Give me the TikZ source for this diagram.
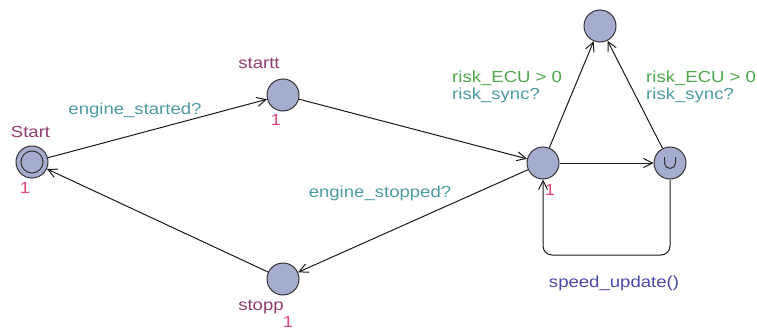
\documentclass[tikz,border=0pt]{standalone}
\usepackage{fontspec}
\setmainfont{Liberation Sans}[FakeStretch=1.16]
\usetikzlibrary{arrows.meta,calc}
\definecolor{locfill}{HTML}{A5ACD0}
\definecolor{namecol}{HTML}{8E3E6E}
\definecolor{onecol}{HTML}{E0457B}
\definecolor{synccol}{HTML}{4C9CA0}
\definecolor{guardcol}{HTML}{4CA84C}
\definecolor{updcol}{HTML}{4A4AA8}
\begin{document}
\begin{tikzpicture}[x=1pt,y=-1pt,
  loc/.style={circle,draw=black!80,fill=locfill,line width=1pt,minimum size=32pt,inner sep=0pt},
  edge/.style={draw=black!90,line width=1pt,-{Straight Barb[length=9pt,width=9pt,line width=1pt]}},
  txt/.style={font=\fontsize{16}{18}\selectfont,inner sep=0pt,anchor=base},
  nm/.style={txt,text=namecol},
  one/.style={txt,text=onecol},
  sy/.style={txt,text=synccol},
  gd/.style={txt,text=guardcol},
  up/.style={txt,text=updcol}]
\useasboundingbox (0,0) rectangle (757,329);
% locations
\node[loc] (start) at (32,162) {};
\node[circle,draw=black!80,line width=1pt,minimum size=22pt,inner sep=0pt] (startin) at (start.center) {};
\node[loc] (startt) at (283,95) {};
\node[loc] (mid) at (543,163) {};
\node[loc] (top) at (600,26) {};
\node[loc] (com) at (670,163) {};
\node[loc] (stopp) at (283,279) {};
\draw[black!80,line width=1pt] ($(com.center)+(-5.5,-6)$) -- ++(0,6) arc[start angle=180,end angle=0,radius=5.5] -- ++(0,-6);
% location labels
\node[nm] (lstart) at (30.5,137) {Start};
\node[one] (ostart) at (25,193) {1};
\node[nm] (lstartt) at (259,68) {startt};
\node[one] (ostartt) at (276,125) {1};
\node[nm] (lstopp) at (261,310) {stopp};
\node[one] (ostopp) at (288,327) {1};
\node[one] (omid) at (550,195) {1};
% edges
\coordinate (lp) at (543,255);
\draw[edge] (start) -- (startt);
\draw[edge] (startt) -- (mid);
\draw[edge] (mid) -- (stopp);
\draw[edge] (stopp) -- (start);
\draw[edge] (mid) -- (top);
\draw[edge] (com) -- (top);
\draw[edge] (mid) -- (com);
\draw[edge,rounded corners=9pt] (com) |- (lp) -- (mid);
% edge labels
\node[sy] (e1) at (135,114) {engine\_started?};
\node[sy] (e2) at (380,197) {engine\_stopped?};
\node[gd,anchor=base west] (g1) at (452,82) {risk\_ECU > 0};
\node[sy,anchor=base west] (s1) at (452,99.5) {risk\_sync?};
\node[gd,anchor=base west] (g2) at (646,82) {risk\_ECU > 0};
\node[sy,anchor=base west] (s2) at (646,99.5) {risk\_sync?};
\node[up] (u1) at (614,287) {speed\_update()};
\end{tikzpicture}
\end{document}
